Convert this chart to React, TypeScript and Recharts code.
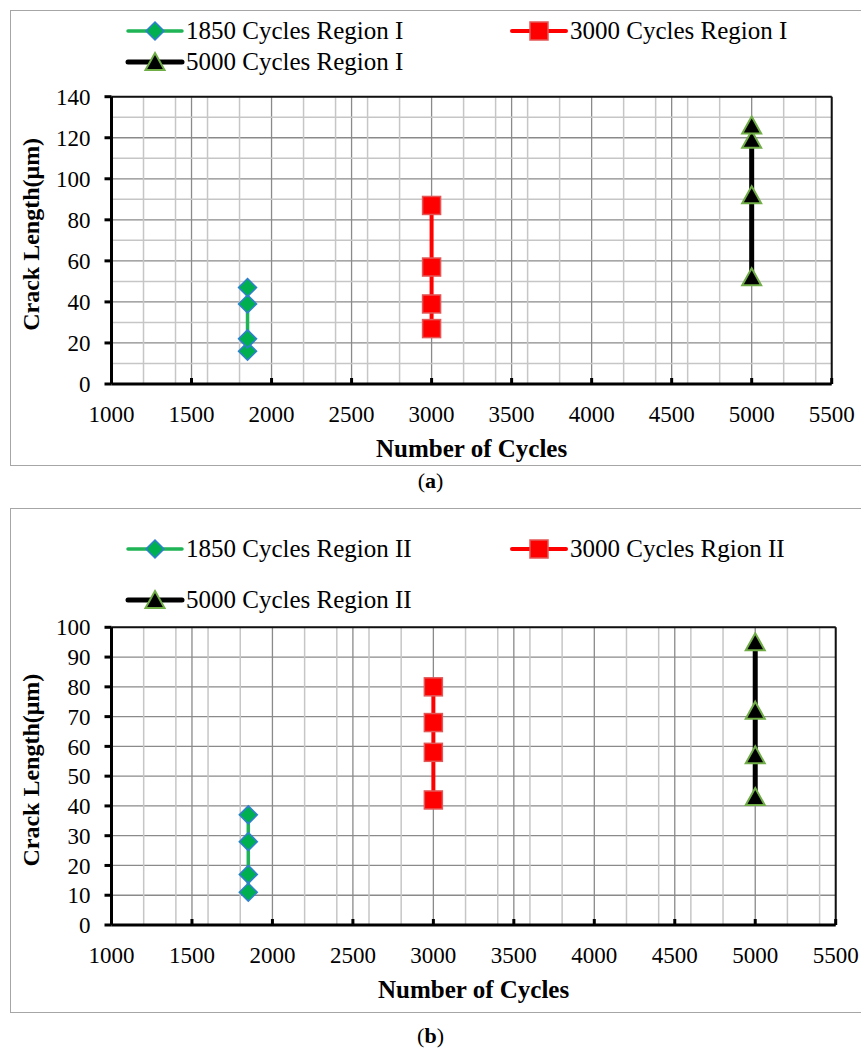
import React from "react";
import { ScatterChart, Scatter, XAxis, YAxis, CartesianGrid, ReferenceLine, Legend } from "recharts";

const FONT = "'Liberation Serif', 'Times New Roman', serif";

const xTicks = [1000, 1500, 2000, 2500, 3000, 3500, 4000, 4500, 5000, 5500];
const yTicksA = [0, 20, 40, 60, 80, 100, 120, 140];
const yTicksB = [0, 10, 20, 30, 40, 50, 60, 70, 80, 90, 100];

const regionI1850 = [16, 22, 39, 47];
const regionI3000 = [27, 39, 57, 87];
const regionI5000 = [52, 92, 119, 126];
// region II
const regionII1850 = [11, 17, 28, 37];
const regionII3000 = [42, 58, 68, 80];
const regionII5000 = [43, 57, 72, 95];

const namesA = ["1850 Cycles Region I", "3000 Cycles Region I", "5000 Cycles Region I"];
const namesB = ["1850 Cycles Region II", "3000 Cycles Rgion II", "5000 Cycles Region II"];

// light grid every 200 cycles (skip where a dark 500 line sits)
const xMinor = Array.from({ length: 22 }, (_, i) => 1200 + i * 200).filter(v => v % 500 !== 0);
const yMinorA = [10, 30, 50, 70, 90, 110, 130];

const pts = (x: number, ys: number[]) => ys.map(y => ({ x, y }));

const Diamond = ({ cx, cy }: any) => (
  <polygon points={`${cx},${cy - 9} ${cx + 9},${cy} ${cx},${cy + 9} ${cx - 9},${cy}`}
    fill="#00b050" stroke="#2f7fd0" strokeWidth={1.5} />
);
const Square = ({ cx, cy }: any) => (
  <rect x={cx - 9} y={cy - 9} width={18} height={18} fill="#ff0000" stroke="#e35757" strokeWidth={1.5} />
);
const Triangle = ({ cx, cy }: any) => (
  <polygon points={`${cx},${cy - 9} ${cx + 9.5},${cy + 8} ${cx - 9.5},${cy + 8}`}
    fill="#000" stroke="#70ad47" strokeWidth={2} />
);

const series = [
  { color: "#1fb456", width: 3.5, Shape: Diamond },
  { color: "#ff0000", width: 4, Shape: Square },
  { color: "#000000", width: 5, Shape: Triangle },
];

const XTick = ({ x, y, payload }: any) => (
  <g>
    {payload.value !== 1000 && <line x1={x} y1={y} x2={x} y2={y - 6} stroke="#000" strokeWidth={3} />}
    <text x={x} y={y + 30} textAnchor="middle" dominantBaseline="central" fontFamily={FONT} fontSize={23} fill="#000">
      {payload.value}
    </text>
  </g>
);

const XTitle = ({ viewBox }: any) => (
  <text x={viewBox.x + viewBox.width / 2} y={viewBox.y + 64} textAnchor="middle" dominantBaseline="central"
    fontFamily={FONT} fontWeight="bold" fontSize={25} fill="#000">Number of Cycles</text>
);

const YTitle = ({ viewBox }: any) => {
  const cx = 31.5;
  const cy = viewBox.y + viewBox.height / 2 - 6;
  return (
    <text x={cx} y={cy} transform={`rotate(-90 ${cx} ${cy})`} textAnchor="middle" dominantBaseline="central"
      fontFamily={FONT} fontWeight="bold" fontSize={24} fill="#000">Crack Length(μm)</text>
  );
};

function LegendBox({ names, rows }: { names: string[]; rows: number[] }) {
  const spots = [
    { left: 128, top: rows[0] },
    { left: 512, top: rows[0] },
    { left: 128, top: rows[1] },
  ];
  return (
    <div style={{ position: "relative", width: 861, height: 120 }}>
      {names.map((n, i) => {
        const s = series[i];
        return (
          <div key={n} style={{ position: "absolute", left: spots[i].left, top: spots[i].top - 15, height: 30,
            display: "flex", alignItems: "center", whiteSpace: "nowrap" }}>
            <svg width={54} height={30} style={{ overflow: "visible" }}>
              <line x1={0} y1={15} x2={54} y2={15} stroke={s.color} strokeWidth={s.width} strokeLinecap="round" />
              <s.Shape cx={27} cy={15} />
            </svg>
            <span style={{ fontFamily: FONT, fontSize: 25, color: "#000", marginLeft: 4, lineHeight: "30px" }}>{n}</span>
          </div>
        );
      })}
    </div>
  );
}

type PanelProps = {
  top: number; height: number; plotTop: number; plotBottom: number; plotRight: number;
  yMax: number; yTicks: number[]; yMinor: number[]; data: number[][]; names: string[]; legendRows: number[];
};

function Panel(p: PanelProps) {
  const cycles = [1850, 3000, 5000];
  return (
    <div style={{ position: "absolute", left: 0, top: p.top }}>
      <ScatterChart width={861} height={p.height}
        margin={{ top: p.plotTop, right: 861 - p.plotRight, bottom: 0, left: 0 }}>
        <CartesianGrid stroke="#8a8a8a" strokeWidth={1.3} />
        {xMinor.map(v => <ReferenceLine key={"x" + v} x={v} stroke="#c6c6c6" strokeWidth={1.5} />)}
        {p.yMinor.map(v => <ReferenceLine key={"y" + v} y={v} stroke="#c6c6c6" strokeWidth={1.5} />)}
        <ReferenceLine y={p.yMax} stroke="#111" strokeWidth={2} />
        <ReferenceLine x={5500} stroke="#111" strokeWidth={2} />
        <XAxis type="number" dataKey="x" domain={[1000, 5500]} ticks={xTicks} interval={0}
          height={p.height - p.plotBottom}
          axisLine={{ stroke: "#000", strokeWidth: 3 }} tickLine={false} tickSize={0} tickMargin={0}
          tick={<XTick />} label={<XTitle />} />
        <YAxis type="number" dataKey="y" domain={[0, p.yMax]} ticks={p.yTicks} interval={0} width={111.5}
          axisLine={{ stroke: "#000", strokeWidth: 3 }} tickLine={{ stroke: "#000", strokeWidth: 3 }}
          tickSize={7} tickMargin={14}
          tick={{ fontFamily: FONT, fontSize: 23, fill: "#000" }} label={<YTitle />} />
        <Legend layout="horizontal" verticalAlign="middle" align="center"
          wrapperStyle={{ left: 0, top: 0, width: 861, height: 120 }}
          content={() => <LegendBox names={p.names} rows={p.legendRows} />} />
        {p.data.map((ys, i) => {
          const S = series[i].Shape;
          return (
            <Scatter key={p.names[i]} name={p.names[i]} data={pts(cycles[i], ys)} isAnimationActive={false}
              line={{ stroke: series[i].color, strokeWidth: series[i].width }} lineJointType="linear"
              shape={(props: any) => <S cx={props.cx} cy={props.cy} />} />
          );
        })}
      </ScatterChart>
    </div>
  );
}

export default function App() {
  return (
    <div style={{ position: "absolute", left: 0, top: 0, width: 861, height: 1050, overflow: "hidden", background: "#fff" }}>
      <div style={{ position: "absolute", left: 10, top: 10, width: 880, height: 454, border: "1.5px solid #a6a6a6" }} />
      <div style={{ position: "absolute", left: 10, top: 508, width: 880, height: 503, border: "1.5px solid #a6a6a6" }} />
      <Panel top={0} height={470} plotTop={96.7} plotBottom={384} plotRight={831.7} yMax={140}
        yTicks={yTicksA} yMinor={yMinorA} data={[regionI1850, regionI3000, regionI5000]}
        names={namesA} legendRows={[30.7, 61.7]} />
      <Panel top={500} height={550} plotTop={127.3} plotBottom={425} plotRight={835.7} yMax={100}
        yTicks={yTicksB} yMinor={[]} data={[regionII1850, regionII3000, regionII5000]}
        names={namesB} legendRows={[49, 100]} />
      <div style={{ position: "absolute", left: 0, width: 861, top: 468, textAlign: "center", fontFamily: FONT, fontSize: 22 }}>
        (<b>a</b>)
      </div>
      <div style={{ position: "absolute", left: 0, width: 861, top: 1023, textAlign: "center", fontFamily: FONT, fontSize: 22 }}>
        (<b>b</b>)
      </div>
    </div>
  );
}
